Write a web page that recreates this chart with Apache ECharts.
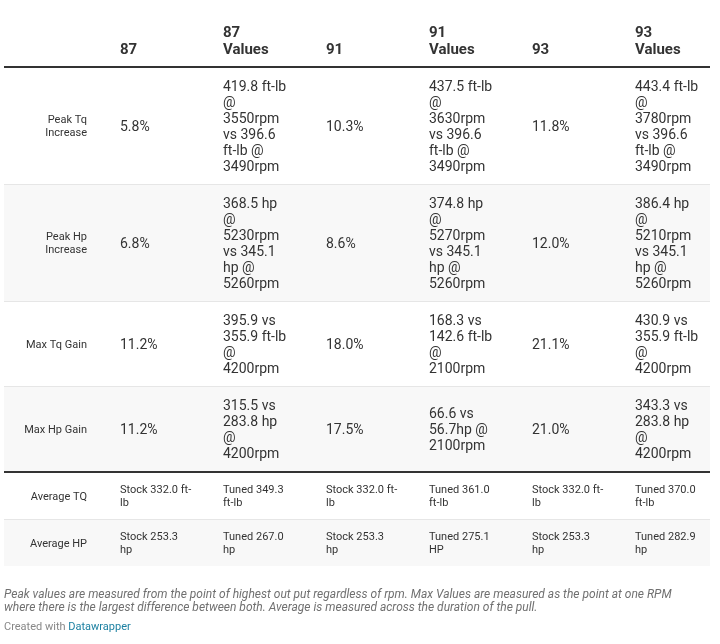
<!DOCTYPE html>
<html>
<head>
<meta charset="utf-8">
<script src="https://cdn.jsdelivr.net/npm/echarts@6/dist/echarts.min.js"></script>
<style>
html, body { margin: 0; padding: 0; background: #fff; }
#main { width: 720px; height: 644px; }
</style>
</head>
<body>
<div id="main"></div>
<script>
// 表头和行标题
var headers = ['87', '87\nValues', '91', '91\nValues', '93', '93\nValues'];
var rowLabels = ['Peak Tq\nIncrease', 'Peak Hp\nIncrease', 'Max Tq Gain', 'Max Hp Gain', 'Average TQ', 'Average HP'];

// 每一列的数据
var col87 = ['5.8%', '6.8%', '11.2%', '11.2%', 'Stock 332.0 ft-\nlb', 'Stock 253.3\nhp'];
var col87Values = [
	'419.8 ft-lb\n@\n3550rpm\nvs 396.6\nft-lb @\n3490rpm',
	'368.5 hp\n@\n5230rpm\nvs 345.1\nhp @\n5260rpm',
	'395.9 vs\n355.9 ft-lb\n@\n4200rpm',
	'315.5 vs\n283.8 hp\n@\n4200rpm',
	'Tuned 349.3\nft-lb',
	'Tuned 267.0\nhp'
];
var col91 = ['10.3%', '8.6%', '18.0%', '17.5%', 'Stock 332.0 ft-\nlb', 'Stock 253.3\nhp'];
var col91Values = [
	'437.5 ft-lb\n@\n3630rpm\nvs 396.6\nft-lb @\n3490rpm',
	'374.8 hp\n@\n5270rpm\nvs 345.1\nhp @\n5260rpm',
	'168.3 vs\n142.6 ft-lb\n@\n2100rpm',
	'66.6 vs\n56.7hp @\n2100rpm',
	'Tuned 361.0\nft-lb',
	'Tuned 275.1\nHP'
];
var col93 = ['11.8%', '12.0%', '21.1%', '21.0%', 'Stock 332.0 ft-\nlb', 'Stock 253.3\nhp'];
var col93Values = [
	'443.4 ft-lb\n@\n3780rpm\nvs 396.6\nft-lb @\n3490rpm',
	'386.4 hp\n@\n5210rpm\nvs 345.1\nhp @\n5260rpm',
	'430.9 vs\n355.9 ft-lb\n@\n4200rpm',
	'343.3 vs\n283.8 hp\n@\n4200rpm',
	'Tuned 370.0\nft-lb',
	'Tuned 282.9\nhp'
];

var notes = 'Peak values are measured from the point of highest out put regardless of rpm. Max Values are measured as the point at one RPM\n' +
	'where there is the largest difference between both. Average is measured across the duration of the pull.';

var columns = [col87, col87Values, col91, col91Values, col93, col93Values];

var textColor = '#333';
var thickAfter = 3; // 粗分隔线所在行

// 行高根据文字行数计算
var rows = [];
var y = 68;
rowLabels.forEach(function(label, r) {
	var lines = 1;
	columns.forEach(function(col) {
		lines = Math.max(lines, col[r].split('\n').length);
	});
	var lh = r > thickAfter ? 13 : 16;
	var h = lines * lh + 20;
	rows.push([1, y, y + h, r]);
	y += h + (r === thickAfter ? 2 : 1);
});

function renderHeader(params, api) {
	var bottom = api.coord([1, api.value(2)])[1];
	var x0 = api.coord([1, 0])[0];
	var left = x0 - 116;
	var right = api.coord([6, 0])[0] + 75;
	var children = [];
	headers.forEach(function(h, c) {
		children.push({
			type: 'text',
			style: {
				text: h,
				x: api.coord([c + 1, 0])[0],
				y: bottom - 9,
				align: 'left',
				verticalAlign: 'bottom',
				textAlign: 'left',
				textVerticalAlign: 'bottom',
				font: 'bold 15px Roboto',
				lineHeight: 17,
				fill: textColor
			}
		});
	});
	children.push({
		type: 'rect',
		shape: { x: left, y: bottom - 2, width: right - left, height: 2 },
		style: { fill: '#333' }
	});
	return { type: 'group', children: children };
}

function renderRow(params, api) {
	var r = api.value(3);
	var top = api.coord([1, api.value(1)])[1];
	var bottom = api.coord([1, api.value(2)])[1];
	var x0 = api.coord([1, 0])[0];
	var left = x0 - 116;
	var right = api.coord([6, 0])[0] + 75;
	var mid = (top + bottom) / 2 + 1;
	var small = r > thickAfter;
	var children = [];
	if (r % 2 === 1) {
		children.push({
			type: 'rect',
			shape: { x: left, y: top, width: right - left, height: bottom - top },
			style: { fill: '#f8f8f8' }
		});
	}
	if (r < rowLabels.length - 1) {
		children.push({
			type: 'rect',
			shape: { x: left, y: bottom, width: right - left, height: r === thickAfter ? 2 : 1 },
			style: { fill: r === thickAfter ? '#333' : '#e6e6e6' }
		});
	}
	children.push({
		type: 'text',
		style: {
			text: rowLabels[r],
			x: x0 - 33,
			y: mid,
			align: 'right',
			verticalAlign: 'middle',
			textAlign: 'right',
			textVerticalAlign: 'middle',
			font: '11px Roboto',
			lineHeight: 13,
			fill: textColor
		}
	});
	columns.forEach(function(col, c) {
		children.push({
			type: 'text',
			style: {
				text: col[r],
				x: api.coord([c + 1, 0])[0],
				y: mid,
				align: 'left',
				verticalAlign: 'middle',
				textAlign: 'left',
				textVerticalAlign: 'middle',
				font: small ? '11px Roboto' : '14px Roboto',
				lineHeight: small ? 13 : 16,
				fill: textColor
			}
		});
	});
	return { type: 'group', children: children };
}

var myChart = echarts.init(document.getElementById('main'));
var option = {
	animation: false,
	backgroundColor: '#fff',
	textStyle: { fontFamily: 'Roboto' },
	title: [{
		text: notes,
		left: 4,
		top: 588,
		padding: 0,
		textStyle: {
			fontFamily: 'Roboto',
			fontStyle: 'italic',
			fontWeight: 'normal',
			fontSize: 12,
			lineHeight: 13,
			color: '#707070'
		}
	}, {
		text: '{a|Created with }{b|Datawrapper}',
		left: 4,
		top: 621,
		padding: 0,
		textStyle: {
			fontWeight: 'normal',
			rich: {
				a: { fontFamily: 'Roboto', fontWeight: 'normal', fontSize: 11, lineHeight: 13, color: '#888' },
				b: { fontFamily: 'Roboto', fontWeight: 'normal', fontSize: 11, lineHeight: 13, color: '#1d81a2' }
			}
		}
	}],
	grid: { left: 120, right: 85, top: 0, bottom: 0 },
	xAxis: { type: 'value', min: 1, max: 6, show: false },
	yAxis: { type: 'value', min: 0, max: 644, inverse: true, show: false },
	series: [{
		name: 'header',
		type: 'custom',
		renderItem: renderHeader,
		data: [[1, 0, 68]]
	}, {
		name: 'rows',
		type: 'custom',
		renderItem: renderRow,
		encode: { x: 0, y: [1, 2] },
		data: rows
	}]
};
myChart.setOption(option);
</script>
</body>
</html>
